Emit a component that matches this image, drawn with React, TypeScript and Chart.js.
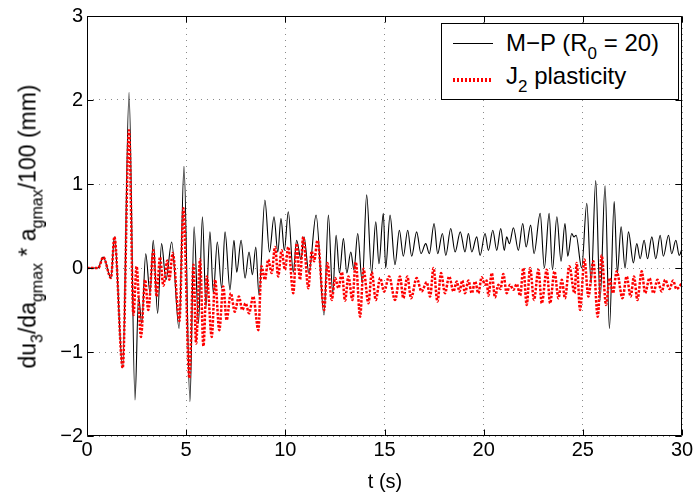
import React, { useEffect, useRef } from 'react';
import { Chart, registerables } from 'chart.js';

Chart.register(...registerables);

// ---- data ----
const mpTime = [0, 0.55, 0.82, 1.21, 1.38, 1.8, 2.12, 2.42, 2.6, 2.76, 2.96, 3.18, 3.34, 3.56, 3.76, 3.98, 4.27, 4.64, 4.89, 5.19, 5.4, 5.62, 5.82, 6.0, 6.2, 6.37, 6.57, 6.79, 6.96, 7.21, 7.41, 7.55, 7.77, 7.97, 8.17, 8.34, 8.51, 8.67, 8.97, 9.2, 9.43, 9.62, 9.78, 9.95, 10.15, 10.4, 10.57, 10.79, 10.94, 11.19, 11.55, 11.95, 12.17, 12.39, 12.56, 12.73, 12.93, 13.1, 13.3, 13.46, 13.65, 13.88, 14.1, 14.35, 14.56, 14.72, 14.94, 15.06, 15.28, 15.53, 15.75, 15.95, 16.17, 16.37, 16.62, 16.84, 17.08, 17.26, 17.5, 17.68, 17.92, 18.09, 18.34, 18.56, 18.82, 19.06, 19.23, 19.4, 19.65, 19.82, 20.07, 20.24, 20.46, 20.66, 20.86, 21.04, 21.16, 21.3, 21.5, 21.75, 21.97, 22.14, 22.37, 22.54, 22.85, 23.06, 23.3, 23.47, 23.69, 23.9, 24.1, 24.24, 24.44, 24.55, 24.66, 24.94, 25.2, 25.42, 25.65, 25.87, 26.12, 26.34, 26.58, 26.74, 26.93, 27.13, 27.3, 27.55, 27.72, 27.89, 28.09, 28.26, 28.48, 28.68, 28.9, 29.06, 29.32, 29.48, 29.69, 29.86, 30];
const mpValue = [0, 0, 0.13, -0.12, 0.37, -1.19, 2.09, -1.57, -0.34, -0.66, 0.17, -0.3, 0.33, -0.54, 0.29, -0.14, 0.31, -0.72, 1.21, -1.59, 0.49, -0.66, 0.61, -0.46, 0.43, -0.3, 0.31, -0.24, 0.43, -0.26, 0.33, -0.05, 0.33, -0.12, 0.19, -0.08, 0.25, -0.32, 0.81, 0.19, 0.61, 0.19, 0.59, 0.21, 0.67, -0.05, 0.33, 0.1, 0.37, -0.06, 0.63, -0.56, 0.63, -0.3, 0.39, -0.06, 0.35, -0.06, 0.19, -0.02, 0.41, -0.18, 0.87, -0.06, 0.55, 0.05, 0.65, 0.0, 0.63, 0.04, 0.45, 0.14, 0.45, 0.14, 0.43, 0.17, 0.29, 0.17, 0.53, 0.17, 0.41, 0.15, 0.47, 0.19, 0.43, 0.19, 0.41, 0.19, 0.37, 0.15, 0.41, 0.21, 0.45, 0.21, 0.47, 0.21, 0.37, 0.29, 0.48, 0.21, 0.53, 0.25, 0.51, 0.17, 0.65, 0.0, 0.65, -0.02, 0.61, 0.08, 0.53, 0.14, 0.41, 0.37, 0.39, 0.0, 0.77, -0.18, 1.04, -0.38, 0.98, -0.72, 0.79, -0.06, 0.49, 0.0, 0.43, 0.06, 0.29, 0.11, 0.33, 0.11, 0.37, 0.11, 0.39, 0.14, 0.39, 0.17, 0.33, 0.15, 0.23];

const j2Time = [0, 0.57, 0.82, 1.21, 1.38, 1.8, 2.12, 2.34, 2.5, 2.72, 2.93, 3.09, 3.35, 3.51, 3.68, 3.85, 4.05, 4.15, 4.32, 4.66, 4.86, 5.16, 5.37, 5.5, 5.7, 5.87, 6.04, 6.29, 6.46, 6.67, 6.87, 7.04, 7.25, 7.45, 7.66, 7.83, 8.0, 8.17, 8.38, 8.64, 8.8, 8.97, 9.14, 9.31, 9.48, 9.64, 9.81, 9.98, 10.15, 10.4, 10.57, 10.74, 10.9, 11.16, 11.33, 11.45, 11.62, 11.96, 12.12, 12.34, 12.51, 12.68, 12.85, 13.01, 13.18, 13.38, 13.55, 13.77, 13.94, 14.19, 14.36, 14.56, 14.78, 14.98, 15.23, 15.53, 15.78, 15.95, 16.15, 16.34, 16.62, 16.87, 17.13, 17.3, 17.47, 17.67, 17.85, 18.05, 18.26, 18.48, 18.64, 18.78, 18.92, 19.06, 19.23, 19.4, 19.57, 19.73, 19.9, 20.07, 20.15, 20.24, 20.41, 20.57, 20.74, 20.85, 20.99, 21.16, 21.33, 21.5, 21.67, 21.84, 22.0, 22.17, 22.34, 22.54, 22.76, 22.93, 23.18, 23.35, 23.57, 23.77, 23.94, 24.1, 24.32, 24.58, 24.69, 24.86, 25.08, 25.28, 25.53, 25.75, 25.95, 26.17, 26.35, 26.52, 26.71, 27.0, 27.21, 27.41, 27.58, 27.75, 27.97, 28.14, 28.36, 28.56, 28.76, 28.98, 29.15, 29.37, 29.55, 29.72, 30];
const j2Value = [0, 0, 0.13, -0.12, 0.37, -1.19, 1.64, -0.56, 0.02, -0.82, -0.14, -0.5, 0.21, -0.34, 0.13, -0.21, 0.09, -0.14, 0.18, -0.63, 0.71, -1.31, 0.04, -0.9, 0.1, -0.93, -0.1, -0.82, -0.14, -0.74, -0.22, -0.62, -0.3, -0.52, -0.34, -0.5, -0.42, -0.54, -0.34, -0.74, 0.02, -0.14, 0.1, -0.06, 0.25, -0.1, 0.21, -0.02, 0.25, -0.3, 0.29, -0.14, 0.37, -0.24, 0.2, 0.08, 0.33, -0.5, 0.06, -0.38, -0.12, -0.24, -0.05, -0.39, -0.1, -0.38, 0.07, -0.58, -0.01, -0.42, -0.05, -0.38, -0.12, -0.28, -0.1, -0.38, -0.1, -0.36, -0.1, -0.36, -0.12, -0.28, -0.17, -0.34, 0.0, -0.4, -0.06, -0.3, -0.1, -0.28, -0.16, -0.28, -0.15, -0.3, -0.15, -0.3, -0.16, -0.3, -0.11, -0.2, -0.15, -0.33, -0.06, -0.35, -0.2, -0.25, -0.07, -0.3, -0.2, -0.26, -0.19, -0.33, 0.0, -0.44, 0.0, -0.38, -0.02, -0.42, -0.02, -0.42, -0.04, -0.36, -0.14, -0.36, 0.02, -0.3, 0.06, -0.5, 0.1, -0.34, 0.08, -0.58, 0.15, -0.44, -0.12, -0.3, -0.04, -0.36, -0.1, -0.34, -0.1, -0.38, -0.04, -0.3, -0.12, -0.3, -0.14, -0.28, -0.14, -0.25, -0.15, -0.25, -0.18];

const xTicks = [0, 5, 10, 15, 20, 25, 30];
const yTicks = [-2, -1, 0, 1, 2, 3];

const FONT = '"Liberation Sans", Arial, Helvetica, sans-serif';

const boxPlugin = {
  id: 'matlabBox',
  afterDatasetsDraw(chart: any) {
    const { ctx, chartArea: a, scales } = chart;
    ctx.save();
    ctx.strokeStyle = '#000';
    ctx.lineWidth = 1;
    ctx.setLineDash([]);
    const L = a.left + 0.5, R = a.right - 0.5, T = a.top + 0.5, B = a.bottom - 0.5;
    ctx.beginPath();
    ctx.rect(L, T, R - L, B - T);
    const tl = 6;
    xTicks.forEach((v) => {
      const px = Math.round(scales.x.getPixelForValue(v)) + 0.5;
      ctx.moveTo(px, B); ctx.lineTo(px, B - tl);
      ctx.moveTo(px, T); ctx.lineTo(px, T + tl);
    });
    yTicks.forEach((v) => {
      const py = Math.round(scales.y.getPixelForValue(v)) + 0.5;
      ctx.moveTo(L, py); ctx.lineTo(L + tl, py);
      ctx.moveTo(R, py); ctx.lineTo(R - tl, py);
    });
    ctx.stroke();
    ctx.restore();
  },
};

const sub = (fs: number, drop: number): React.CSSProperties => ({
  fontSize: fs,
  verticalAlign: -drop,
  lineHeight: 0,
});

export default function App() {
  const ref = useRef<HTMLCanvasElement>(null);

  useEffect(() => {
    document.body.style.margin = '0';
    const canvas = ref.current!;
    const chart = new Chart(canvas, {
      type: 'line',
      data: {
        datasets: [
          {
            label: 'M−P (R0 = 20)',
            data: mpTime.map((t, i) => ({ x: t, y: mpValue[i] })),
            borderColor: '#000000',
            borderWidth: 1.1,
            pointRadius: 0,
            fill: false,
            cubicInterpolationMode: 'monotone',
            order: 2,
          },
          {
            label: 'J2 plasticity',
            data: j2Time.map((t, i) => ({ x: t, y: j2Value[i] })),
            borderColor: '#ff0000',
            borderWidth: 2.5,
            borderDash: [2.5, 1.5],
            pointRadius: 0,
            fill: false,
            cubicInterpolationMode: 'monotone',
            order: 1,
          },
        ],
      },
      options: {
        animation: false,
        responsive: false,
        devicePixelRatio: 1,
        parsing: false,
        layout: { padding: { left: 0, right: 14, top: 16, bottom: 0 } },
        plugins: { legend: { display: false }, tooltip: { enabled: false } },
        scales: {
          x: {
            type: 'linear',
            min: 0,
            max: 30,
            afterFit: (s: any) => { s.height = 59; },
            afterBuildTicks: (s: any) => { s.ticks = xTicks.map((v) => ({ value: v })); },
            ticks: {
              color: '#000',
              font: { family: FONT, size: 20 },
              padding: 2,
              maxRotation: 0,
              autoSkip: false,
            },
            grid: { color: '#8a8a8a', lineWidth: 1, drawTicks: false },
            border: { display: false, dash: [1, 5] },
          },
          y: {
            type: 'linear',
            min: -2,
            max: 3,
            afterFit: (s: any) => { s.width = 87; },
            afterBuildTicks: (s: any) => { s.ticks = yTicks.map((v) => ({ value: v })); },
            ticks: {
              color: '#000',
              font: { family: FONT, size: 20 },
              padding: 4,
              autoSkip: false,
              callback: (v: any) => (Number(v) < 0 ? '\u2212' + Math.abs(Number(v)) : String(v)),
            },
            grid: { color: '#8a8a8a', lineWidth: 1, drawTicks: false },
            border: { display: false, dash: [1, 5] },
          },
        },
      } as any,
      plugins: [boxPlugin],
    });
    return () => chart.destroy();
  }, []);

  return (
    <div style={{ position: 'relative', width: 696, height: 495, overflow: 'hidden', background: '#fff', fontFamily: FONT, color: '#000' }}>
      <canvas ref={ref} width={696} height={495} style={{ position: 'absolute', left: 0, top: 0, width: 696, height: 495 }} />

      {/* y axis label */}
      <div style={{ position: 'absolute', left: 28 - 250, top: 226 - 11.5, width: 500, height: 23, fontSize: 23, lineHeight: '23px', textAlign: 'center', whiteSpace: 'nowrap', transform: 'rotate(-90deg)', transformOrigin: '50% 50%' }}>
        du<span style={sub(16, 7)}>3</span>/da<span style={sub(16, 7)}>gmax</span> * a<span style={sub(16, 7)}>gmax</span>/100 (mm)
      </div>

      {/* x axis label */}
      <div style={{ position: 'absolute', left: 285, top: 471, width: 200, height: 20, fontSize: 20, lineHeight: '20px', textAlign: 'center', whiteSpace: 'nowrap' }}>
        t (s)
      </div>

      {/* legend */}
      <div style={{ position: 'absolute', left: 441, top: 23, width: 238, height: 77, border: '1px solid #000', boxSizing: 'border-box', background: '#fff' }}>
        <div style={{ position: 'absolute', left: 11, top: 19, width: 40, height: 0, borderTop: '1px solid #000' }} />
        <div style={{ position: 'absolute', left: 64, top: 7.4, height: 24, fontSize: 24, lineHeight: '24px', whiteSpace: 'nowrap' }}>
          M−P (R<span style={sub(17, 8)}>0</span> = 20)
        </div>
        <div style={{ position: 'absolute', left: 11, top: 54, width: 40, height: 4, background: 'repeating-linear-gradient(90deg, #ff0000 0px, #ff0000 2px, #ffffff 2px, #ffffff 4px)' }} />
        <div style={{ position: 'absolute', left: 64, top: 39.7, height: 24, fontSize: 24, lineHeight: '24px', whiteSpace: 'nowrap' }}>
          J<span style={sub(17, 8)}>2</span> plasticity
        </div>
      </div>
    </div>
  );
}
